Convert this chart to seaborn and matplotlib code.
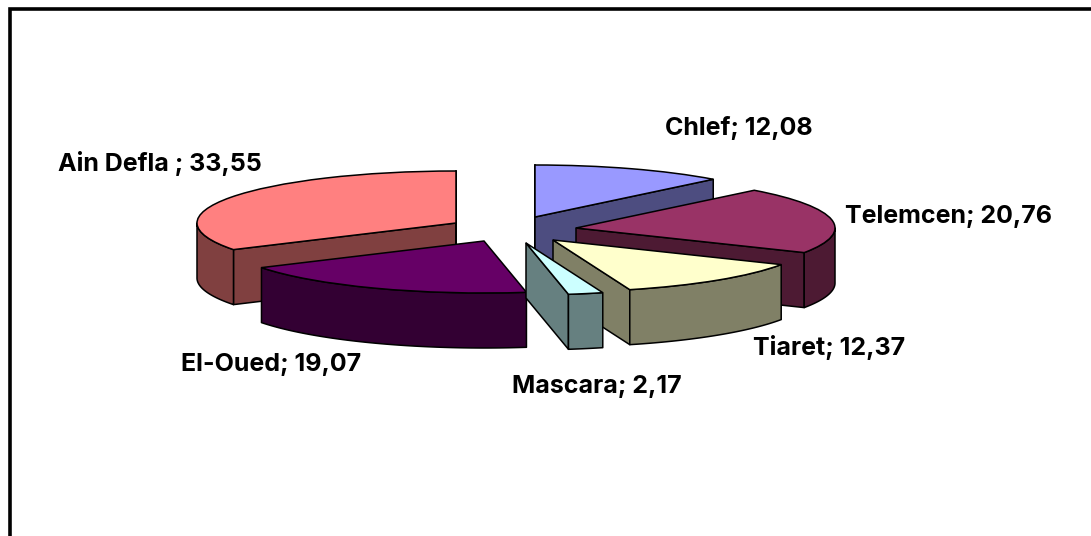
import numpy as np
import matplotlib
matplotlib.use("Agg")
import matplotlib.pyplot as plt
from matplotlib.lines import Line2D
import seaborn as sns

# --- data -----------------------------------------------------------
regions = ["Chlef", "Telemcen", "Tiaret", "Mascara", "El-Oued", "Ain Defla "]
shares = [12.08, 20.76, 12.37, 2.17, 19.07, 33.55]
shares_text = ["12,08", "20,76", "12,37", "2,17", "19,07", "33,55"]

# --- style ----------------------------------------------------------
top_colors = ["#9999FF", "#993366", "#FFFFCC", "#CCFFFF", "#660066", "#FF8080"]
side_colors = ["#4D4D80", "#4D1A33", "#808066", "#668080", "#330033", "#804040"]
# apex of each exploded slice, in image pixels
apex_px = [(535, 217), (576, 228), (553, 240), (526, 243), (484, 241), (456, 223)]
label_px = [(665, 128), (845, 216), (753, 348), (512, 387), (181, 365), (58, 163)]
draw_order = [5, 0, 1, 2, 4, 3]
W, H = 1091, 536
RX, RY, DEPTH = 259.0, 52.0, 55.0

sns.set_theme(style="white")
plt.rcParams["font.family"] = ["Inter", "Liberation Sans", "DejaVu Sans"]

fig = plt.figure(figsize=(W / 100, H / 100), dpi=100, facecolor="white")
ax = fig.add_axes([0, 0, 1, 1])

wedges, _ = ax.pie(shares, startangle=90, counterclock=False, radius=1.0, colors=top_colors,
                   wedgeprops=dict(edgecolor="black", linewidth=1.1))
ax.set_aspect("auto")
ax.set_frame_on(False)
# one x unit is RX pixels, one y unit is RY pixels; the y axis runs down the image
ax.set_xlim(0, W / RX)
ax.set_ylim(-H / RY, 0)
ax.set_xticks([])
ax.set_yticks([])

dz = DEPTH / RY
edge = dict(edgecolor="black", linewidth=1.1, joinstyle="round")
ends = np.cumsum(shares) / np.sum(shares) * 360.0
starts = ends - np.array(shares) / np.sum(shares) * 360.0


def rim(theta_deg):
    t = np.radians(theta_deg)
    return np.sin(t), np.cos(t)


for rank, i in enumerate(draw_order):
    cx, cy = apex_px[i][0] / RX, -apex_px[i][1] / RY
    a0, a1 = starts[i], ends[i]
    z = 2 + rank * 3

    # cut faces, only those turned towards the viewer
    for ang, sign in ((a0, -1), (a1, 1)):
        ux, uy = rim(ang)
        # outward normal of the cut plane, in unit-circle coordinates
        nx, ny = uy * sign, -ux * sign
        if ny < 1e-9:
            xs = [cx, cx + ux, cx + ux, cx]
            ys = [cy, cy + uy, cy + uy - dz, cy - dz]
            ax.fill(xs, ys, facecolor=side_colors[i], zorder=z, **edge)

    # outer wall: the part of the rim in the front half of the ellipse
    lo, hi = max(a0, 90.0), min(a1, 270.0)
    if hi > lo:
        th = np.linspace(lo, hi, 80)
        ux, uy = rim(th)
        xs = np.r_[cx + ux, (cx + ux)[::-1]]
        ys = np.r_[cy + uy, (cy + uy - dz)[::-1]]
        ax.fill(xs, ys, facecolor=side_colors[i], zorder=z + 1, **edge)

    wedges[i].set_center((cx, cy))
    wedges[i].set_zorder(z + 2)

# frame: only left and top are visible inside the image
ax.add_line(Line2D([9.5 / RX, 9.5 / RX, W / RX], [-H / RY, -9.5 / RY, -9.5 / RY],
                   color="black", linewidth=2.6, solid_joinstyle="miter", zorder=40))

for name, txt, (px, py) in zip(regions, shares_text, label_px):
    ax.text(px / RX, -py / RY, f"{name}; {txt}", ha="left", va="center",
            fontsize=18, fontweight="bold", color="black", zorder=50)

fig.savefig("out.png", dpi=100, facecolor="white")
